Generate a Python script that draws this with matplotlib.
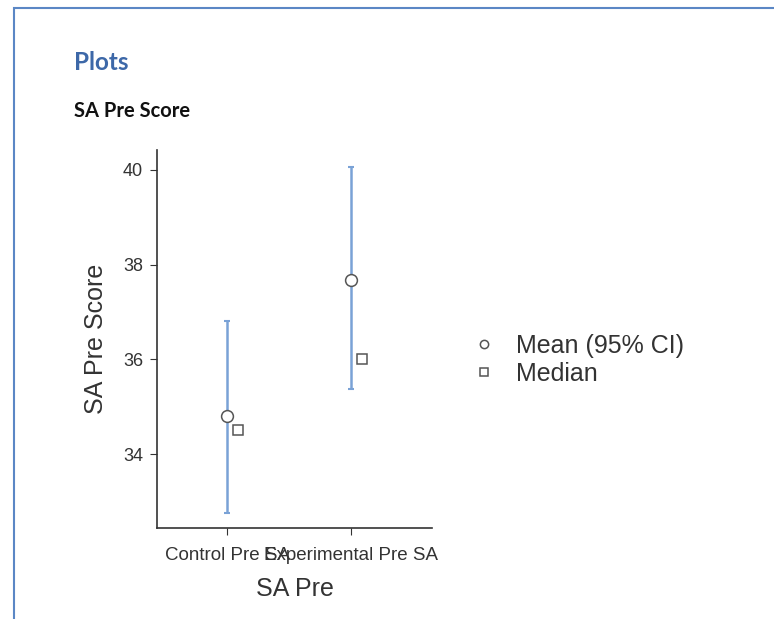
import matplotlib
matplotlib.use("Agg")
import matplotlib.pyplot as plt
from matplotlib.patches import Rectangle

groups = ["Control Pre SA", "Experimental Pre SA"]
means = [34.80, 37.68]
ci_low = [32.75, 35.37]
ci_high = [36.82, 40.06]
medians = [34.5, 36.0]
y_ticks = [34, 36, 38, 40]

plt.rcParams["font.family"] = ["Liberation Sans", "DejaVu Sans"]

fig = plt.figure(figsize=(7.74, 6.19), dpi=100)

# page frame
fig.patches.append(Rectangle((14 / 774, -0.1), 2, 1.1 - 8 / 619, transform=fig.transFigure,
                             fill=False, edgecolor="#5b87c5", linewidth=1.5))
fig.text(74 / 774, 1 - 62 / 619, "Plots", fontsize=17.5, fontweight="bold", color="#3d68a8",
         family="Lato", va="center")
fig.text(74 / 774, 1 - 111 / 619, "SA Pre Score", fontsize=14.5, fontweight="bold", color="#111111",
         family="Lato", va="center")

ax = fig.add_axes([157 / 774, 1 - 528 / 619, 275 / 774, 378 / 619])
x = list(range(len(groups)))
yerr = [[m - lo for m, lo in zip(means, ci_low)], [hi - m for m, hi in zip(means, ci_high)]]
ax.errorbar(x, means, yerr=yerr, fmt="none", ecolor="#7aa2d6", elinewidth=1.8, capsize=2, capthick=1.5)
ax.plot(x, means, "o", markersize=8.5, markerfacecolor="white", markeredgecolor="#555555",
        markeredgewidth=1.1, linestyle="none", label="Mean (95% CI)")
ax.plot([i + 0.09 for i in x], medians, "s", markersize=7.5, markerfacecolor="white",
        markeredgecolor="#555555", markeredgewidth=1.1, linestyle="none", label="Median")

ax.set_xlim(-0.565, 1.65)
ax.set_ylim(32.44, 40.42)
ax.set_xticks(x)
ax.set_xticklabels(groups, fontsize=13.5, color="#333333")
ax.set_yticks(y_ticks)
ax.tick_params(axis="y", labelsize=13, labelcolor="#333333", length=5, color="#333333", pad=5)
ax.tick_params(axis="x", length=5, color="#333333", pad=9)
for side in ["top", "right"]:
    ax.spines[side].set_visible(False)
for side in ["left", "bottom"]:
    ax.spines[side].set_color("#333333")
    ax.spines[side].set_linewidth(1.2)
ax.set_ylabel("SA Pre Score", fontsize=18, color="#333333", labelpad=11)
ax.set_xlabel("SA Pre", fontsize=18, color="#333333", labelpad=9)

fig.legend(loc="center left", bbox_to_anchor=(436 / 774, 1 - 360 / 619), frameon=False,
           fontsize=18, handletextpad=0.3, labelspacing=0.15, markerscale=0.7,
           labelcolor="#333333")

fig.savefig("out.png", dpi=100, facecolor="white")
